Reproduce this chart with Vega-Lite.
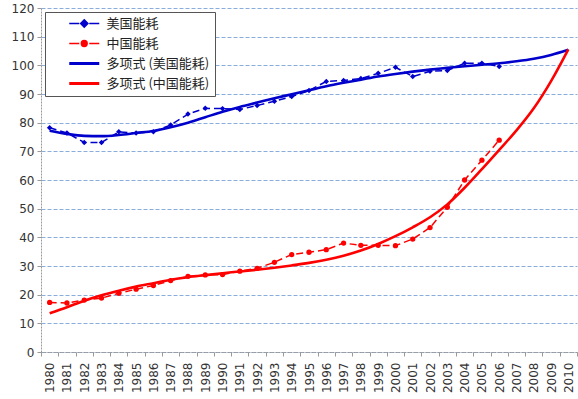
{
  "$schema": "https://vega.github.io/schema/vega-lite/v6.json",
  "width": 536,
  "height": 344,
  "autosize": {"type": "none"},
  "padding": {"left": 41, "top": 8, "right": 1, "bottom": 47},
  "background": "white",
  "config": {
    "view": {"stroke": null},
    "font": "DejaVu Sans",
    "axis": {"labelFont": "DejaVu Sans", "labelFontSize": 11.5, "labelColor": "#333333", "titleColor": "#333333"}
  },
  "datasets": {
    "rows": [
      {"year": 1980, "series": "美国能耗", "value": 78.2},
      {"year": 1981, "series": "美国能耗", "value": 76.4},
      {"year": 1982, "series": "美国能耗", "value": 73.1},
      {"year": 1983, "series": "美国能耗", "value": 73.1},
      {"year": 1984, "series": "美国能耗", "value": 76.8},
      {"year": 1985, "series": "美国能耗", "value": 76.4},
      {"year": 1986, "series": "美国能耗", "value": 76.8},
      {"year": 1987, "series": "美国能耗", "value": 79.2},
      {"year": 1988, "series": "美国能耗", "value": 83.0},
      {"year": 1989, "series": "美国能耗", "value": 85.0},
      {"year": 1990, "series": "美国能耗", "value": 84.9},
      {"year": 1991, "series": "美国能耗", "value": 84.6},
      {"year": 1992, "series": "美国能耗", "value": 86.0},
      {"year": 1993, "series": "美国能耗", "value": 87.5},
      {"year": 1994, "series": "美国能耗", "value": 89.1},
      {"year": 1995, "series": "美国能耗", "value": 91.2},
      {"year": 1996, "series": "美国能耗", "value": 94.4},
      {"year": 1997, "series": "美国能耗", "value": 94.7},
      {"year": 1998, "series": "美国能耗", "value": 95.4},
      {"year": 1999, "series": "美国能耗", "value": 97.2},
      {"year": 2000, "series": "美国能耗", "value": 99.3},
      {"year": 2001, "series": "美国能耗", "value": 96.1},
      {"year": 2002, "series": "美国能耗", "value": 97.9},
      {"year": 2003, "series": "美国能耗", "value": 98.2},
      {"year": 2004, "series": "美国能耗", "value": 100.7},
      {"year": 2005, "series": "美国能耗", "value": 100.7},
      {"year": 2006, "series": "美国能耗", "value": 99.6},
      {"year": 1980, "series": "中国能耗", "value": 17.3},
      {"year": 1981, "series": "中国能耗", "value": 17.1},
      {"year": 1982, "series": "中国能耗", "value": 18.1},
      {"year": 1983, "series": "中国能耗", "value": 18.8},
      {"year": 1984, "series": "中国能耗", "value": 20.5},
      {"year": 1985, "series": "中国能耗", "value": 21.9},
      {"year": 1986, "series": "中国能耗", "value": 23.2},
      {"year": 1987, "series": "中国能耗", "value": 24.9},
      {"year": 1988, "series": "中国能耗", "value": 26.4},
      {"year": 1989, "series": "中国能耗", "value": 26.9},
      {"year": 1990, "series": "中国能耗", "value": 27.0},
      {"year": 1991, "series": "中国能耗", "value": 28.2},
      {"year": 1992, "series": "中国能耗", "value": 29.2},
      {"year": 1993, "series": "中国能耗", "value": 31.3},
      {"year": 1994, "series": "中国能耗", "value": 34.0},
      {"year": 1995, "series": "中国能耗", "value": 34.8},
      {"year": 1996, "series": "中国能耗", "value": 35.7},
      {"year": 1997, "series": "中国能耗", "value": 38.0},
      {"year": 1998, "series": "中国能耗", "value": 37.2},
      {"year": 1999, "series": "中国能耗", "value": 37.2},
      {"year": 2000, "series": "中国能耗", "value": 37.1},
      {"year": 2001, "series": "中国能耗", "value": 39.4},
      {"year": 2002, "series": "中国能耗", "value": 43.4},
      {"year": 2003, "series": "中国能耗", "value": 50.5},
      {"year": 2004, "series": "中国能耗", "value": 60.0},
      {"year": 2005, "series": "中国能耗", "value": 66.9},
      {"year": 2006, "series": "中国能耗", "value": 73.9},
      {"year": 1980, "series": "多项式 (美国能耗)", "value": 77.2},
      {"year": 1981, "series": "多项式 (美国能耗)", "value": 76.1},
      {"year": 1982, "series": "多项式 (美国能耗)", "value": 75.4},
      {"year": 1983, "series": "多项式 (美国能耗)", "value": 75.3},
      {"year": 1984, "series": "多项式 (美国能耗)", "value": 75.7},
      {"year": 1985, "series": "多项式 (美国能耗)", "value": 76.4},
      {"year": 1986, "series": "多项式 (美国能耗)", "value": 77.1},
      {"year": 1987, "series": "多项式 (美国能耗)", "value": 78.4},
      {"year": 1988, "series": "多项式 (美国能耗)", "value": 80.0},
      {"year": 1989, "series": "多项式 (美国能耗)", "value": 81.9},
      {"year": 1990, "series": "多项式 (美国能耗)", "value": 83.8},
      {"year": 1991, "series": "多项式 (美国能耗)", "value": 85.5},
      {"year": 1992, "series": "多项式 (美国能耗)", "value": 87.0},
      {"year": 1993, "series": "多项式 (美国能耗)", "value": 88.5},
      {"year": 1994, "series": "多项式 (美国能耗)", "value": 89.9},
      {"year": 1995, "series": "多项式 (美国能耗)", "value": 91.3},
      {"year": 1996, "series": "多项式 (美国能耗)", "value": 92.7},
      {"year": 1997, "series": "多项式 (美国能耗)", "value": 93.9},
      {"year": 1998, "series": "多项式 (美国能耗)", "value": 95.0},
      {"year": 1999, "series": "多项式 (美国能耗)", "value": 96.1},
      {"year": 2000, "series": "多项式 (美国能耗)", "value": 97.0},
      {"year": 2001, "series": "多项式 (美国能耗)", "value": 97.8},
      {"year": 2002, "series": "多项式 (美国能耗)", "value": 98.5},
      {"year": 2003, "series": "多项式 (美国能耗)", "value": 99.1},
      {"year": 2004, "series": "多项式 (美国能耗)", "value": 99.7},
      {"year": 2005, "series": "多项式 (美国能耗)", "value": 100.2},
      {"year": 2006, "series": "多项式 (美国能耗)", "value": 100.7},
      {"year": 2007, "series": "多项式 (美国能耗)", "value": 101.4},
      {"year": 2008, "series": "多项式 (美国能耗)", "value": 102.3},
      {"year": 2009, "series": "多项式 (美国能耗)", "value": 103.6},
      {"year": 2010, "series": "多项式 (美国能耗)", "value": 105.4},
      {"year": 1980, "series": "多项式 (中国能耗)", "value": 13.5},
      {"year": 1981, "series": "多项式 (中国能耗)", "value": 15.6},
      {"year": 1982, "series": "多项式 (中国能耗)", "value": 17.9},
      {"year": 1983, "series": "多项式 (中国能耗)", "value": 19.8},
      {"year": 1984, "series": "多项式 (中国能耗)", "value": 21.4},
      {"year": 1985, "series": "多项式 (中国能耗)", "value": 22.8},
      {"year": 1986, "series": "多项式 (中国能耗)", "value": 24.0},
      {"year": 1987, "series": "多项式 (中国能耗)", "value": 25.2},
      {"year": 1988, "series": "多项式 (中国能耗)", "value": 26.1},
      {"year": 1989, "series": "多项式 (中国能耗)", "value": 26.8},
      {"year": 1990, "series": "多项式 (中国能耗)", "value": 27.5},
      {"year": 1991, "series": "多项式 (中国能耗)", "value": 28.1},
      {"year": 1992, "series": "多项式 (中国能耗)", "value": 28.7},
      {"year": 1993, "series": "多项式 (中国能耗)", "value": 29.4},
      {"year": 1994, "series": "多项式 (中国能耗)", "value": 30.2},
      {"year": 1995, "series": "多项式 (中国能耗)", "value": 31.1},
      {"year": 1996, "series": "多项式 (中国能耗)", "value": 32.2},
      {"year": 1997, "series": "多项式 (中国能耗)", "value": 33.6},
      {"year": 1998, "series": "多项式 (中国能耗)", "value": 35.4},
      {"year": 1999, "series": "多项式 (中国能耗)", "value": 37.7},
      {"year": 2000, "series": "多项式 (中国能耗)", "value": 40.4},
      {"year": 2001, "series": "多项式 (中国能耗)", "value": 43.5},
      {"year": 2002, "series": "多项式 (中国能耗)", "value": 47.0},
      {"year": 2003, "series": "多项式 (中国能耗)", "value": 51.5},
      {"year": 2004, "series": "多项式 (中国能耗)", "value": 57.3},
      {"year": 2005, "series": "多项式 (中国能耗)", "value": 63.8},
      {"year": 2006, "series": "多项式 (中国能耗)", "value": 70.5},
      {"year": 2007, "series": "多项式 (中国能耗)", "value": 77.3},
      {"year": 2008, "series": "多项式 (中国能耗)", "value": 85.0},
      {"year": 2009, "series": "多项式 (中国能耗)", "value": 94.5},
      {"year": 2010, "series": "多项式 (中国能耗)", "value": 105.6}
    ]
  },
  "data": {"name": "rows"},
  "encoding": {
    "x": {
      "field": "year", "type": "ordinal",
      "scale": {"type": "band", "paddingInner": 0, "paddingOuter": 0},
      "axis": {
        "title": null, "labelAngle": -90, "labelAlign": "right", "labelBaseline": "middle",
        "labelPadding": 6, "tickBand": "extent", "tickSize": 4, "tickColor": "#999999",
        "domainColor": "#999999", "domainDash": [2, 1], "grid": false, "labelFontSize": 12
      }
    },
    "y": {
      "field": "value", "type": "quantitative",
      "scale": {"domain": [0, 120], "nice": false},
      "axis": {
        "title": null, "values": [0,10,20,30,40,50,60,70,80,90,100,110,120],
        "grid": true, "gridColor": "#8AAEDC", "gridDash": [4, 2], "gridWidth": 1,
        "tickSize": 4, "tickColor": "#999999", "domainColor": "#999999", "domainDash": [2, 1],
        "labelPadding": 3, "labelFontSize": 12
      }
    },
    "color": {
      "field": "series", "type": "nominal",
      "scale": {
        "domain": ["美国能耗", "中国能耗", "多项式 (美国能耗)", "多项式 (中国能耗)"],
        "range": ["#0000CC", "#FF0000", "#0000CC", "#FF0000"]
      },
      "legend": {
        "title": null, "orient": "none", "legendX": 4, "legendY": 4,
        "fillColor": "white", "strokeColor": "#555555", "padding": 5,
        "symbolSize": 210, "rowPadding": 6, "labelOffset": 43.5,
        "labelFont": "Noto Sans CJK SC", "labelFontSize": 13, "labelColor": "#222222",
        "labelLimit": 300,
        "labelExpr": "datum.label + '\u3000\u2002'",
        "encode": {
          "symbols": {
            "update": {
              "shape": {"signal": "datum.value == '美国能耗' ? 'M1.76,0H3.14M4.52,0H5.9M3.83,-0.5L4.33,0L3.83,0.5L3.33,0Z' : (datum.value == '中国能耗' ? 'M1.76,0H3.14M4.52,0H5.9M4.23,0A0.4,0.4,0,1,1,3.43,0A0.4,0.4,0,1,1,4.23,0Z' : 'M1.76,0H5.9')"},
              "stroke": {"scale": "color", "field": "value"},
              "fill": {"signal": "datum.value == '美国能耗' ? '#0000CC' : (datum.value == '中国能耗' ? '#FF0000' : 'transparent')"},
              "strokeWidth": {"signal": "(datum.value == '美国能耗' || datum.value == '中国能耗') ? 1.5 : 3"}
            }
          }
        }
      }
    }
  },
  "layer": [
    {
      "transform": [{"filter": "datum.series == '美国能耗' || datum.series == '中国能耗'"}],
      "mark": {"type": "line", "strokeWidth": 1.5, "strokeDash": [7, 4]}
    },
    {
      "transform": [{"filter": "datum.series == '美国能耗'"}],
      "mark": {"type": "point", "shape": "diamond", "filled": true, "opacity": 1, "size": 30}
    },
    {
      "transform": [{"filter": "datum.series == '中国能耗'"}],
      "mark": {"type": "point", "shape": "circle", "filled": true, "opacity": 1, "size": 28}
    },
    {
      "transform": [{"filter": "datum.series == '多项式 (美国能耗)' || datum.series == '多项式 (中国能耗)'"}],
      "mark": {"type": "line", "strokeWidth": 2.6, "interpolate": "monotone"}
    }
  ]
}
